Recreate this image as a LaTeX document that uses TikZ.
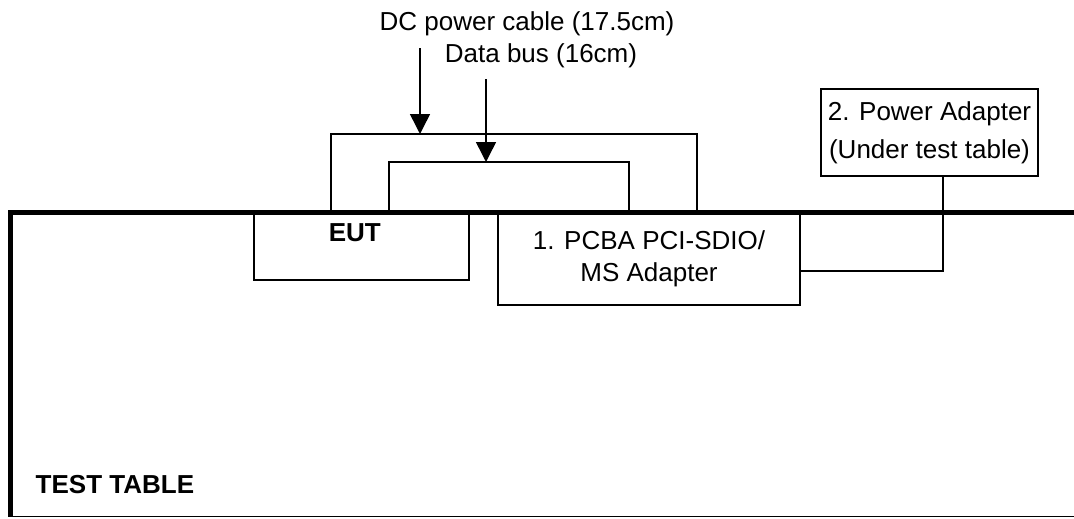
\documentclass[tikz,border=0pt]{standalone}
\usepackage{fontspec}
\setmainfont{Liberation Sans}
\usetikzlibrary{arrows.meta, positioning, calc}
\newcommand{\labelfont}{\fontsize{19.5}{24}\selectfont}

\begin{document}
\begin{tikzpicture}[x=0.75pt, y=-0.75pt,
    every node/.style={font=\labelfont},
    box/.style={draw, line width=1.1pt, outer sep=0pt, inner sep=0pt, align=center},
    cable/.style={line width=1.1pt},
    pointer/.style={line width=1.1pt, -{Triangle[width=15pt, length=15pt]}},
    tableedge/.style={line width=3.8pt}]
    \useasboundingbox (0,0) rectangle (1074,518);

    % Equipment on the table
    \node[box, minimum width=161.25pt, minimum height=51pt,
          label={[font=\labelfont\bfseries, anchor=center, xshift=-5pt, yshift=-15.5pt]north:EUT}] (eut) at (361.5,246) {};
    \node[box, minimum width=226.5pt, minimum height=69pt] (pcba) at (649,259) {1. PCBA PCI-SDIO/\\MS Adapter};

    % Power adapter (under the table)
    \node[box, minimum width=162.75pt, minimum height=65.25pt, font=\fontsize{19.5}{28.5}\selectfont] (adapter) at (929.5,132.5) {2. Power Adapter\\(Under test table)};

    % Cables between EUT and PCBA
    \draw[cable] ($(eut.north west)+(77,0)$) -- ++(0,-78) -| ($(pcba.north east)+(-103,0)$);
    \draw[cable] ($(eut.north west)+(135,0)$) -- ++(0,-50) -| ($(pcba.north west)+(131,0)$);
    \draw[cable] ($(adapter.south)+(13.5,0)$) |- ($(pcba.east)+(0,12)$);

    % Cable labels
    \node (dclabel) at (527,24) {DC power cable (17.5cm)};
    \node (buslabel) at (541,56) {Data bus (16cm)};
    \coordinate (dcstart) at (420,48);
    \coordinate (dcend) at (420,134);
    \coordinate (busstart) at (486,79);
    \coordinate (busend) at (486,162);
    \draw[pointer] (dcstart) -- (dcend);
    \draw[pointer] (busstart) -- (busend);

    % Test table
    \draw[tableedge] (1074,212.5) -- (10.5,212.5) -- (10.5,517);
    \draw[line width=1.1pt] (10.5,516.5) -- (1074,516.5);
    \node[anchor=west, font=\labelfont\bfseries] (tablelabel) at (31,485) {TEST TABLE};
\end{tikzpicture}
\end{document}
